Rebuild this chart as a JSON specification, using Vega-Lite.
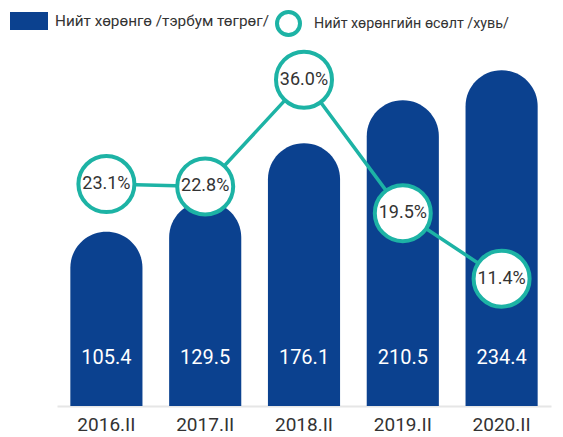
{
  "$schema": "https://vega.github.io/schema/vega-lite/v6.json",
  "width": 494,
  "height": 406,
  "autosize": {"type": "none"},
  "padding": {"left": 57, "top": 0, "right": 12, "bottom": 31},
  "background": "white",
  "config": {
    "view": {"stroke": null},
    "font": "Roboto"
  },
  "data": {
    "values": [
      {"period": "2016.II", "assets": 105.4, "growth": 0.231},
      {"period": "2017.II", "assets": 129.5, "growth": 0.228},
      {"period": "2018.II", "assets": 176.1, "growth": 0.360},
      {"period": "2019.II", "assets": 210.5, "growth": 0.195},
      {"period": "2020.II", "assets": 234.4, "growth": 0.114}
    ]
  },
  "encoding": {
    "x": {
      "field": "period",
      "type": "nominal",
      "sort": null,
      "scale": {"paddingInner": 0.27, "paddingOuter": 0.135},
      "axis": {
        "title": null,
        "labelAngle": 0,
        "labelFont": "Roboto",
        "labelFontSize": 19,
        "labelColor": "#333333",
        "labelPadding": 9,
        "ticks": false,
        "domainColor": "#e6e6e6",
        "domainWidth": 2
      }
    }
  },
  "layer": [
    {
      "layer": [
        {
          "mark": {"type": "bar", "cornerRadiusTopLeft": 36, "cornerRadiusTopRight": 36},
          "encoding": {
            "y": {"field": "assets", "type": "quantitative", "scale": {"domain": [-33.8, 290.5], "zero": false, "nice": false}, "axis": null},
            "y2": {"datum": -33.8},
            "color": {
              "datum": "Нийт хөрөнгө /тэрбум төгрөг/",
              "type": "nominal",
              "scale": {"range": ["#0b418f"]},
              "legend": {
                "orient": "none",
                "legendX": -47,
                "legendY": 2,
                "title": null,
                "padding": 0,
                "symbolType": "M-1,-0.47H1V0.47H-1Z",
                "symbolSize": 1444,
                "symbolStrokeWidth": 0,
                "labelFont": "Roboto",
                "labelFontSize": 15.3,
                "labelLimit": 500,
                "labelColor": "#333333",
                "labelOffset": 7
              }
            }
          }
        },
        {
          "mark": {"type": "text", "color": "white", "fontSize": 20, "font": "Roboto", "baseline": "middle", "align": "center"},
          "encoding": {
            "y": {"datum": 4.5, "type": "quantitative", "scale": {"domain": [-33.8, 290.5], "zero": false, "nice": false}, "axis": null},
            "text": {"field": "assets", "type": "quantitative", "format": ".1f"}
          }
        }
      ]
    },
    {
      "layer": [
        {
          "mark": {"type": "line", "color": "#1db3a5", "strokeWidth": 3.5},
          "encoding": {
            "y": {"field": "growth", "type": "quantitative", "scale": {"domain": [-0.0434, 0.4585], "zero": false, "nice": false}, "axis": null}
          }
        },
        {
          "mark": {"type": "point", "shape": "circle", "filled": false, "fill": "white", "fillOpacity": 1, "strokeWidth": 4, "size": 3136, "opacity": 1},
          "encoding": {
            "y": {"field": "growth", "type": "quantitative", "scale": {"domain": [-0.0434, 0.4585], "zero": false, "nice": false}, "axis": null},
            "stroke": {
              "datum": "Нийт хөрөнгийн өсөлт /хувь/",
              "type": "nominal",
              "scale": {"range": ["#1db3a5"]},
              "legend": {
                "orient": "none",
                "legendX": 218,
                "legendY": 10,
                "title": null,
                "padding": 0,
                "symbolType": "circle",
                "symbolSize": 529,
                "symbolStrokeWidth": 4,
                "symbolFillColor": "white",
                "labelFont": "Roboto",
                "labelFontSize": 14.3,
                "labelLimit": 500,
                "labelColor": "#333333",
                "labelOffset": 12
              }
            }
          }
        },
        {
          "mark": {"type": "text", "color": "#333333", "fontSize": 18, "font": "Roboto", "baseline": "middle", "align": "center"},
          "encoding": {
            "y": {"field": "growth", "type": "quantitative", "scale": {"domain": [-0.0434, 0.4585], "zero": false, "nice": false}, "axis": null},
            "text": {"field": "growth", "type": "quantitative", "format": ".1%"}
          }
        }
      ]
    }
  ],
  "resolve": {"scale": {"y": "independent", "color": "independent", "stroke": "independent"}}
}
